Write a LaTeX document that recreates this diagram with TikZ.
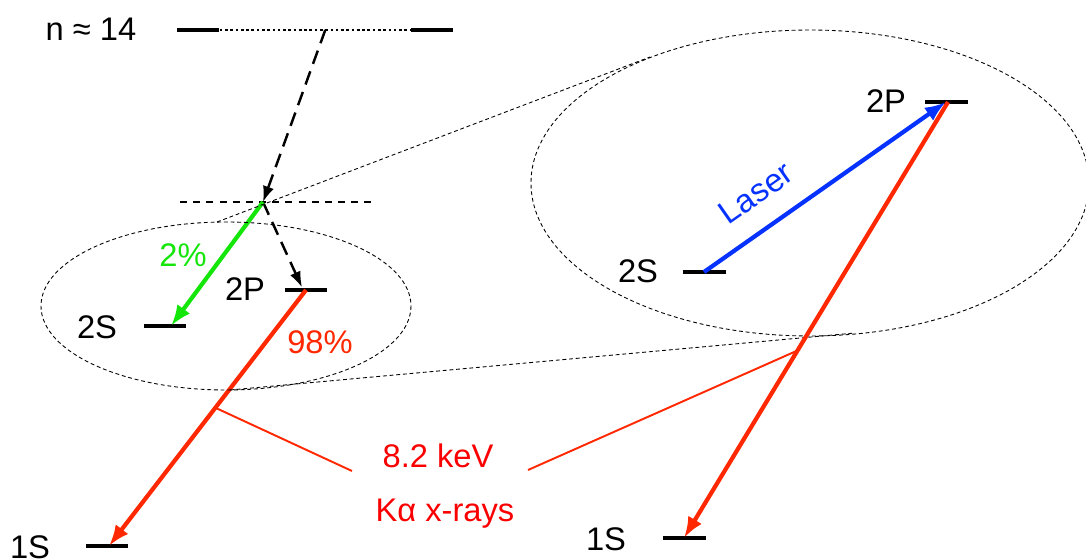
\documentclass[tikz,border=0pt]{standalone}
\usepackage{fontspec}
\setmainfont{Liberation Sans}
\usetikzlibrary{arrows.meta, positioning, calc}
\definecolor{kred}{RGB}{255,40,0}
\definecolor{xred}{RGB}{250,0,0}
\definecolor{kgreen}{RGB}{20,230,10}
\definecolor{kblue}{RGB}{5,50,255}

\begin{document}
\begin{tikzpicture}[x=0.02cm, y=-0.02cm, font=\fontsize{18.6}{22}\selectfont,
  lvl/.style={fill=black, inner sep=0pt, minimum width=0.86cm, minimum height=0.09cm},
  lbl/.style={inner sep=0pt},
  zoomline/.style={line width=0.5pt, dash pattern=on 2.2pt off 1.6pt},
  casc/.style={line width=1.4pt, dash pattern=on 8pt off 4.5pt, -{Latex[length=9pt,width=6.5pt]}},
  trans/.style={line width=2.4pt, -{Latex[length=12pt,width=9pt]}}]

  \useasboundingbox (0,0) rectangle (1086,560);

  % Levels
  \node[lvl] (n14a) at (198,30) {};
  \node[lvl] (n14b) at (432,30) {};
  \node[lvl] (s2a) at (165,326) {};
  \node[lvl] (p2a) at (306,290) {};
  \node[lvl] (s1a) at (107,546) {};
  \node[lvl] (p2b) at (946,102) {};
  \node[lvl] (s2b) at (704,272) {};
  \node[lvl] (s1b) at (684,538) {};

  % Level labels
  \node[lbl] (n14) at (91,29) {n ≈ 14};
  \node[lbl] (s2aL) at (97,327) {2S};
  \node[lbl] (p2aL) at (245,289) {2P};
  \node[lbl] (s1aL) at (30,547) {1S};
  \node[lbl] (p2bL) at (886,101) {2P};
  \node[lbl] (s2bL) at (638,271) {2S};
  \node[lbl] (s1bL) at (606,539) {1S};

  % Cascade
  \draw[line width=0.7pt, dash pattern=on 1.5pt off 1.5pt] (n14a) -- coordinate[pos=0.554] (n14mid) (n14b);
  \coordinate (vL) at (180,202);
  \coordinate (vR) at (371,202);
  \coordinate (cross) at (263,202);
  \draw[line width=1.6pt, dash pattern=on 4pt off 3.5pt] (vL) -- (vR);
  \draw[casc] (n14mid) -- (cross);
  \draw[casc] (cross) -- ($(p2a.north)+(-4,0)$);
  \draw[trans, kgreen] (cross) -- ($(s2a.center)+(6,0)$);
  \draw[trans, kred] (p2a.center) -- coordinate[pos=0.46] (kaL) ($(s1a.center)+(2,0)$);
  \node[lbl, kgreen] (pc2) at (183,255) {2\%};
  \node[lbl, kred] (pc98) at (320,342) {98\%};

  % Zoom
  \draw[zoomline] (226,306) ellipse [x radius=185, y radius=84];
  \draw[zoomline] (810,183) ellipse [x radius=279, y radius=153];
  \draw[zoomline] (217,222) -- (650,57);
  \draw[zoomline] (230,390) -- (855,333);

  \draw[trans, kblue] (s2b.center) -- (p2b.center);
  \node[lbl, kblue, rotate=35] (laser) at (756,193) {Laser};
  \draw[trans, kred] ($(p2b.center)+(2,0)$) -- coordinate[pos=0.57] (kaR) (s1b.center);

  % X-rays
  \node[lbl, xred, anchor=base] (kev) at (438,468) {8.2 keV};
  \node[lbl, xred, anchor=base] (xray) at (445,522) {Kα x-rays};
  \coordinate (kevL) at (352,471);
  \coordinate (kevR) at (528,470);
  \draw[kred, line width=1.1pt] (kaL) -- (kevL);
  \draw[kred, line width=1.1pt] (kaR) -- (kevR);

\end{tikzpicture}
\end{document}
